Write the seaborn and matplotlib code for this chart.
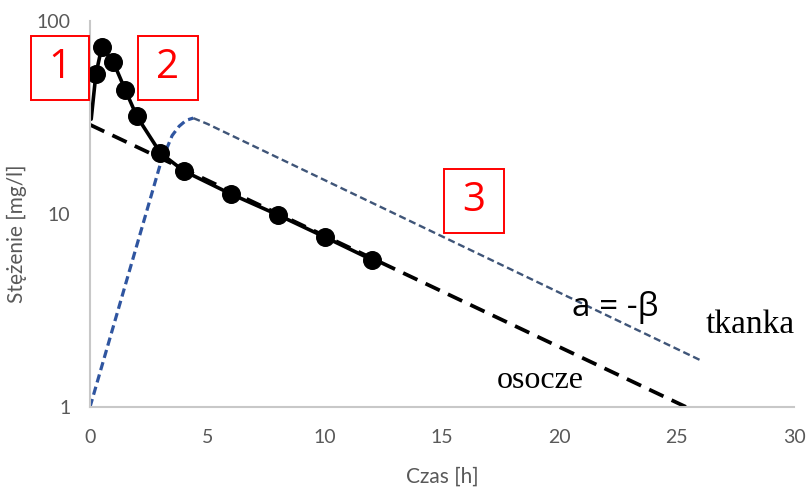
import numpy as np
import matplotlib
matplotlib.use("Agg")
import matplotlib.pyplot as plt
import seaborn as sns
from matplotlib.patches import Rectangle

# measured plasma concentrations (first point near t=0 is line-only)
czas_pomiar = [0.25, 0.5, 1, 1.5, 2, 3, 4, 6, 8, 10, 12]
stez_pomiar = [53, 73, 61, 44, 32, 20.7, 16.7, 12.7, 9.9, 7.6, 5.8]
czas_start = [0.05]
stez_start = [31]

# beta phase extrapolation (osocze)
czas_beta = [0, 25.4]
stez_beta = [29, 1]

# tissue curve (tkanka): rise to peak, then decline
czas_tkanka_wzrost = [0, 3.0, 3.5, 3.8, 4.1, 4.4]
stez_tkanka_wzrost = [1.0, 18.2, 25.5, 28.5, 30.6, 31.4]
czas_tkanka_spadek = [4.4, 5.0, 26.0]
stez_tkanka_spadek = [31.4, 29.3, 1.75]

x_ticks = [0, 5, 10, 15, 20, 25, 30]
y_ticks = [1, 10, 100]

sns.set_theme(style="white")
plt.rcParams["font.family"] = ["Lato", "DejaVu Sans"]

fig = plt.figure(figsize=(8.08, 4.88), dpi=100)
ax = fig.add_axes([0.1114, 0.166, 0.8713, 0.791])

sns.lineplot(x=czas_beta, y=stez_beta, ax=ax, color="black", lw=2.7, sort=False)
ax.lines[-1].set_dashes([4.2, 2.4])

sns.lineplot(x=czas_tkanka_wzrost, y=stez_tkanka_wzrost, ax=ax, color="#2f55a0",
             lw=2.3, sort=False)
ax.lines[-1].set_dashes([2.6, 1.4])
sns.lineplot(x=czas_tkanka_spadek, y=stez_tkanka_spadek, ax=ax, color="#3f5578",
             lw=1.7, sort=False)
ax.lines[-1].set_dashes([3, 1.6])

sns.lineplot(x=czas_start + czas_pomiar, y=stez_start + stez_pomiar, ax=ax,
             color="black", lw=2.6, sort=False)
sns.scatterplot(x=czas_pomiar, y=stez_pomiar, ax=ax, color="black", s=160,
                edgecolor="black", zorder=5)

ax.set_yscale("log")
ax.set_xlim(0, 30)
ax.set_ylim(1, 100)
ax.set_xticks(x_ticks)
ax.set_xticklabels([str(t) for t in x_ticks])
ax.set_yticks(y_ticks)
ax.set_yticklabels([str(t) for t in y_ticks])
ax.yaxis.set_minor_locator(matplotlib.ticker.NullLocator())
ax.tick_params(axis="both", length=0, labelsize=14, colors="#595959")
ax.tick_params(axis="y", pad=14)
ax.tick_params(axis="x", pad=16)

for side in ["top", "right"]:
    ax.spines[side].set_visible(False)
for side in ["left", "bottom"]:
    ax.spines[side].set_color("#c8c8c8")
    ax.spines[side].set_linewidth(1.5)

ax.set_xlabel("Czas [h]", fontsize=15, color="#595959")
ax.set_ylabel("Stężenie [mg/l]", fontsize=15, color="#595959")
ax.xaxis.set_label_coords(0.5, -0.155)
ax.yaxis.set_label_coords(-0.09, 0.45)

# numbered red boxes (figure pixel coordinates)
def red_box(x0, y0, w, h, txt):
    fx, fy = x0 / 808, 1 - (y0 + h) / 488
    fig.patches.append(Rectangle((fx, fy), w / 808, h / 488, transform=fig.transFigure,
                                 fill=False, edgecolor="#ff0000", lw=1.4))
    fig.text(fx + w / 808 / 2, fy + h / 488 / 2, txt, color="#ff0000", fontsize=29,
             ha="center", va="center", family=["Open Sans", "DejaVu Sans"])

red_box(31, 36, 58, 64, "1")
red_box(138, 36, 60, 64, "2")
red_box(444, 169, 60, 64, "3")

fig.text(615 / 808, 1 - 307 / 488, "a = -β", fontsize=24, color="black",
         ha="center", va="center", family=["Open Sans", "DejaVu Sans"])
fig.text(750 / 808, 1 - 325 / 488, "tkanka", fontsize=24, color="black",
         ha="center", va="center", family=["Liberation Serif"])
fig.text(540 / 808, 1 - 381 / 488, "osocze", fontsize=23, color="black",
         ha="center", va="center", family=["Liberation Serif"])

fig.savefig("out.png", dpi=100)
